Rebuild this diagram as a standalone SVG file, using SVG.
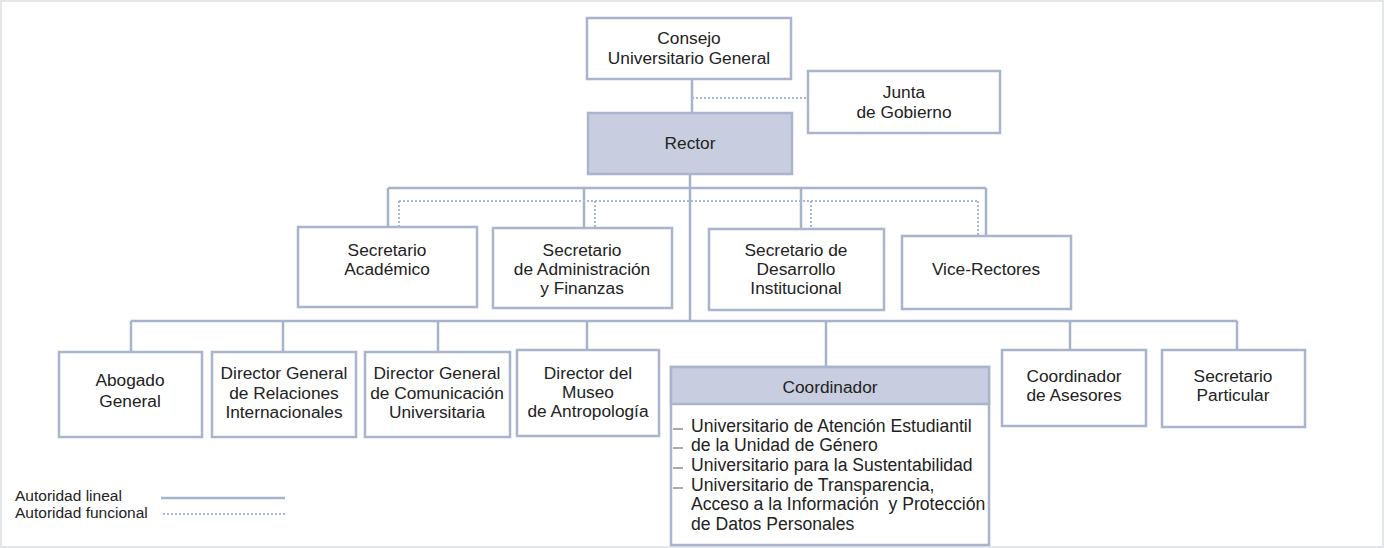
<svg xmlns="http://www.w3.org/2000/svg" width="1384" height="548" viewBox="0 0 1384 548">
<style>
.box{fill:#fff;stroke:#aab5cd;stroke-width:2.5}
.hl{fill:#c8cedf;stroke:#aab5cd;stroke-width:2.5}
.ln{stroke:#a7b2cb;stroke-width:2.5;fill:none}
.dt{stroke:#aab8d2;stroke-width:2;fill:none;stroke-dasharray:2 2}
text{font-family:"Liberation Sans",Arial,sans-serif;font-size:17.3px;fill:#222;text-anchor:middle}
.lst{text-anchor:start;font-size:17.6px}
.lg{font-size:15.5px;text-anchor:start}
</style>
<rect x="1" y="1" width="1382" height="546" fill="#fff" stroke="#e4e6ea" stroke-width="2"/>
<g id="connectors">
<path class="ln" d="M692 79V113M690 175V320M388 188H986M388 188V227M584 188V228M801 188V229M986 188V236M131 321H1237M131 321V352M283 321V352M438 321V352M587 321V350M826 321V367M1070 321V350M1237 321V350"/>
<path class="dt" d="M692 98H808M399 201H978M399 201V227M595 201V228M811 201V229M978 201V236"/>
</g>
<g id="consejo"><rect class="box" x="587" y="18" width="204" height="61"/><text x="689" y="44">Consejo</text><text x="689" y="64">Universitario General</text></g>
<g id="junta"><rect class="box" x="808" y="71" width="192" height="62"/><text x="904" y="98">Junta</text><text x="904" y="118">de Gobierno</text></g>
<g id="rector"><rect class="hl" x="588" y="113" width="204" height="61"/><text x="690" y="149">Rector</text></g>
<g id="sec-academico"><rect class="box" x="298" y="227" width="179" height="80"/><text x="387" y="256">Secretario</text><text x="387" y="275">Académico</text></g>
<g id="sec-admin"><rect class="box" x="493" y="228" width="179" height="80"/><text x="582" y="256">Secretario</text><text x="582" y="275">de Administración</text><text x="582" y="294">y Finanzas</text></g>
<g id="sec-desarrollo"><rect class="box" x="709" y="229" width="175" height="81"/><text x="796" y="256">Secretario de</text><text x="796" y="275">Desarrollo</text><text x="796" y="294">Institucional</text></g>
<g id="vice-rectores"><rect class="box" x="902" y="236" width="169" height="73"/><text x="986" y="275">Vice-Rectores</text></g>
<g id="abogado"><rect class="box" x="59" y="352" width="143" height="85"/><text x="130" y="386">Abogado</text><text x="130" y="407">General</text></g>
<g id="dg-relaciones"><rect class="box" x="212" y="352" width="144" height="85"/><text x="284" y="379">Director General</text><text x="284" y="399">de Relaciones</text><text x="284" y="418">Internacionales</text></g>
<g id="dg-comunicacion"><rect class="box" x="365" y="352" width="145" height="85"/><text x="437" y="379">Director General</text><text x="437" y="399">de Comunicación</text><text x="437" y="418">Universitaria</text></g>
<g id="museo"><rect class="box" x="517" y="350" width="142" height="86"/><text x="588" y="379">Director del</text><text x="588" y="398">Museo</text><text x="588" y="417">de Antropología</text></g>
<g id="coordinador"><rect class="box" x="671" y="367" width="318" height="178"/><rect class="hl" x="671" y="367" width="318" height="37"/><text x="830" y="393">Coordinador</text>
<path d="M673 429H683M673 448H683M673 468H683M673 488H683" stroke="#555" stroke-width="1"/>
<text class="lst" x="691" y="432">Universitario de Atención Estudiantil</text>
<text class="lst" x="691" y="451">de la Unidad de Género</text>
<text class="lst" x="691" y="471">Universitario para la Sustentabilidad</text>
<text class="lst" x="691" y="491">Universitario de Transparencia,</text>
<text class="lst" x="691" y="510" xml:space="preserve">Acceso a la Información  y Protección</text>
<text class="lst" x="691" y="530">de Datos Personales</text></g>
<g id="coord-asesores"><rect class="box" x="1002" y="350" width="144" height="76"/><text x="1074" y="382">Coordinador</text><text x="1074" y="401">de Asesores</text></g>
<g id="sec-particular"><rect class="box" x="1162" y="350" width="143" height="77"/><text x="1233" y="382">Secretario</text><text x="1233" y="401">Particular</text></g>
<g id="legend"><text class="lg" x="15" y="501">Autoridad lineal</text><text class="lg" x="15" y="518">Autoridad funcional</text>
<path class="ln" d="M161 498H285" stroke-width="2"/><path class="dt" d="M163 514H285"/></g>
</svg>
